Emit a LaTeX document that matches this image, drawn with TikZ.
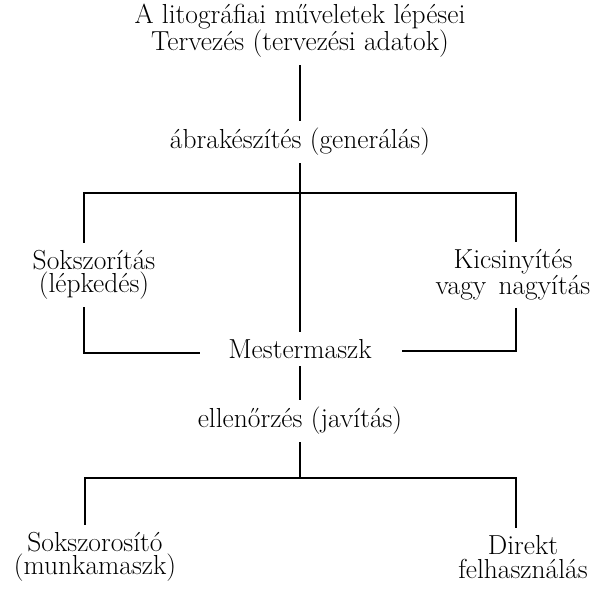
\documentclass[tikz,border=0pt]{standalone}
\begin{document}
\begin{tikzpicture}[x=1pt, y=-1pt, node distance=100pt, line width=1.4pt]
        % Stilusok
        \tikzstyle{szoveg} = [align=center, inner xsep=2pt, inner ysep=7pt, font=\fontsize{27.5}{23.5}\selectfont]
        \tikzstyle{coord} = [coordinate]

        \useasboundingbox (0,0) rectangle (598,591);

        % --- Fo lanc ---
        \node [szoveg] (cim) at (300,31) {A litográfiai műveletek lépései\\Tervezés (tervezési adatok)};
        \node [szoveg, below of=cim, node distance=111pt] (abra) {ábrakészítés (generálás)};
        \node [szoveg, below of=abra, node distance=207pt] (mester) {Mestermaszk};
        \node [szoveg, below of=mester, node distance=72pt] (ellen) {ellenőrzés (javítás)};

        % --- Oldalagak ---
        \node [szoveg] (sokszor) at (94,275) {Sokszorítás\\(lépkedés)};
        \node [szoveg] (kicsi) at (513,275) {Kicsinyítés\\vagy\hspace{0.45em}nagyítás};
        \node [szoveg] (munka) at (95,557) {Sokszorosító\\(munkamaszk)};
        \node [szoveg] (direkt) at (523,557) {Direkt\\felhasználás};

        % --- Elagazasok ---
        \node [coord] (elag1) at (300,193) {};
        \node [coord] (bal1) at (84,193) {};
        \node [coord] (jobb1) at (516,193) {};
        \node [coord] (bal2) at (84,353) {};
        \node [coord] (jobb2) at (516,351) {};
        \node [coord] (elag2) at (300,478) {};
        \node [coord] (bal3) at (85,478) {};
        \node [coord] (jobb3) at (516,478) {};

        % --- Vonalak ---
        \draw (cim) -- (abra);
        \draw (abra) -- (elag1) -- (mester);
        \draw (sokszor.north -| bal1) -- (bal1) -- (jobb1) -- (jobb1 |- kicsi.north);
        \draw (sokszor.south -| bal2) -- (bal2) -- ([xshift=-26pt]mester.west |- bal2);
        \draw (kicsi.south -| jobb2) -- (jobb2) -- ([xshift=28pt]mester.east |- jobb2);
        \draw (mester) -- (ellen);
        \draw (ellen) -- (elag2);
        \draw (munka.north -| bal3) -- (bal3) -- (jobb3) -- (jobb3 |- direkt.north);

    \end{tikzpicture}
\end{document}
